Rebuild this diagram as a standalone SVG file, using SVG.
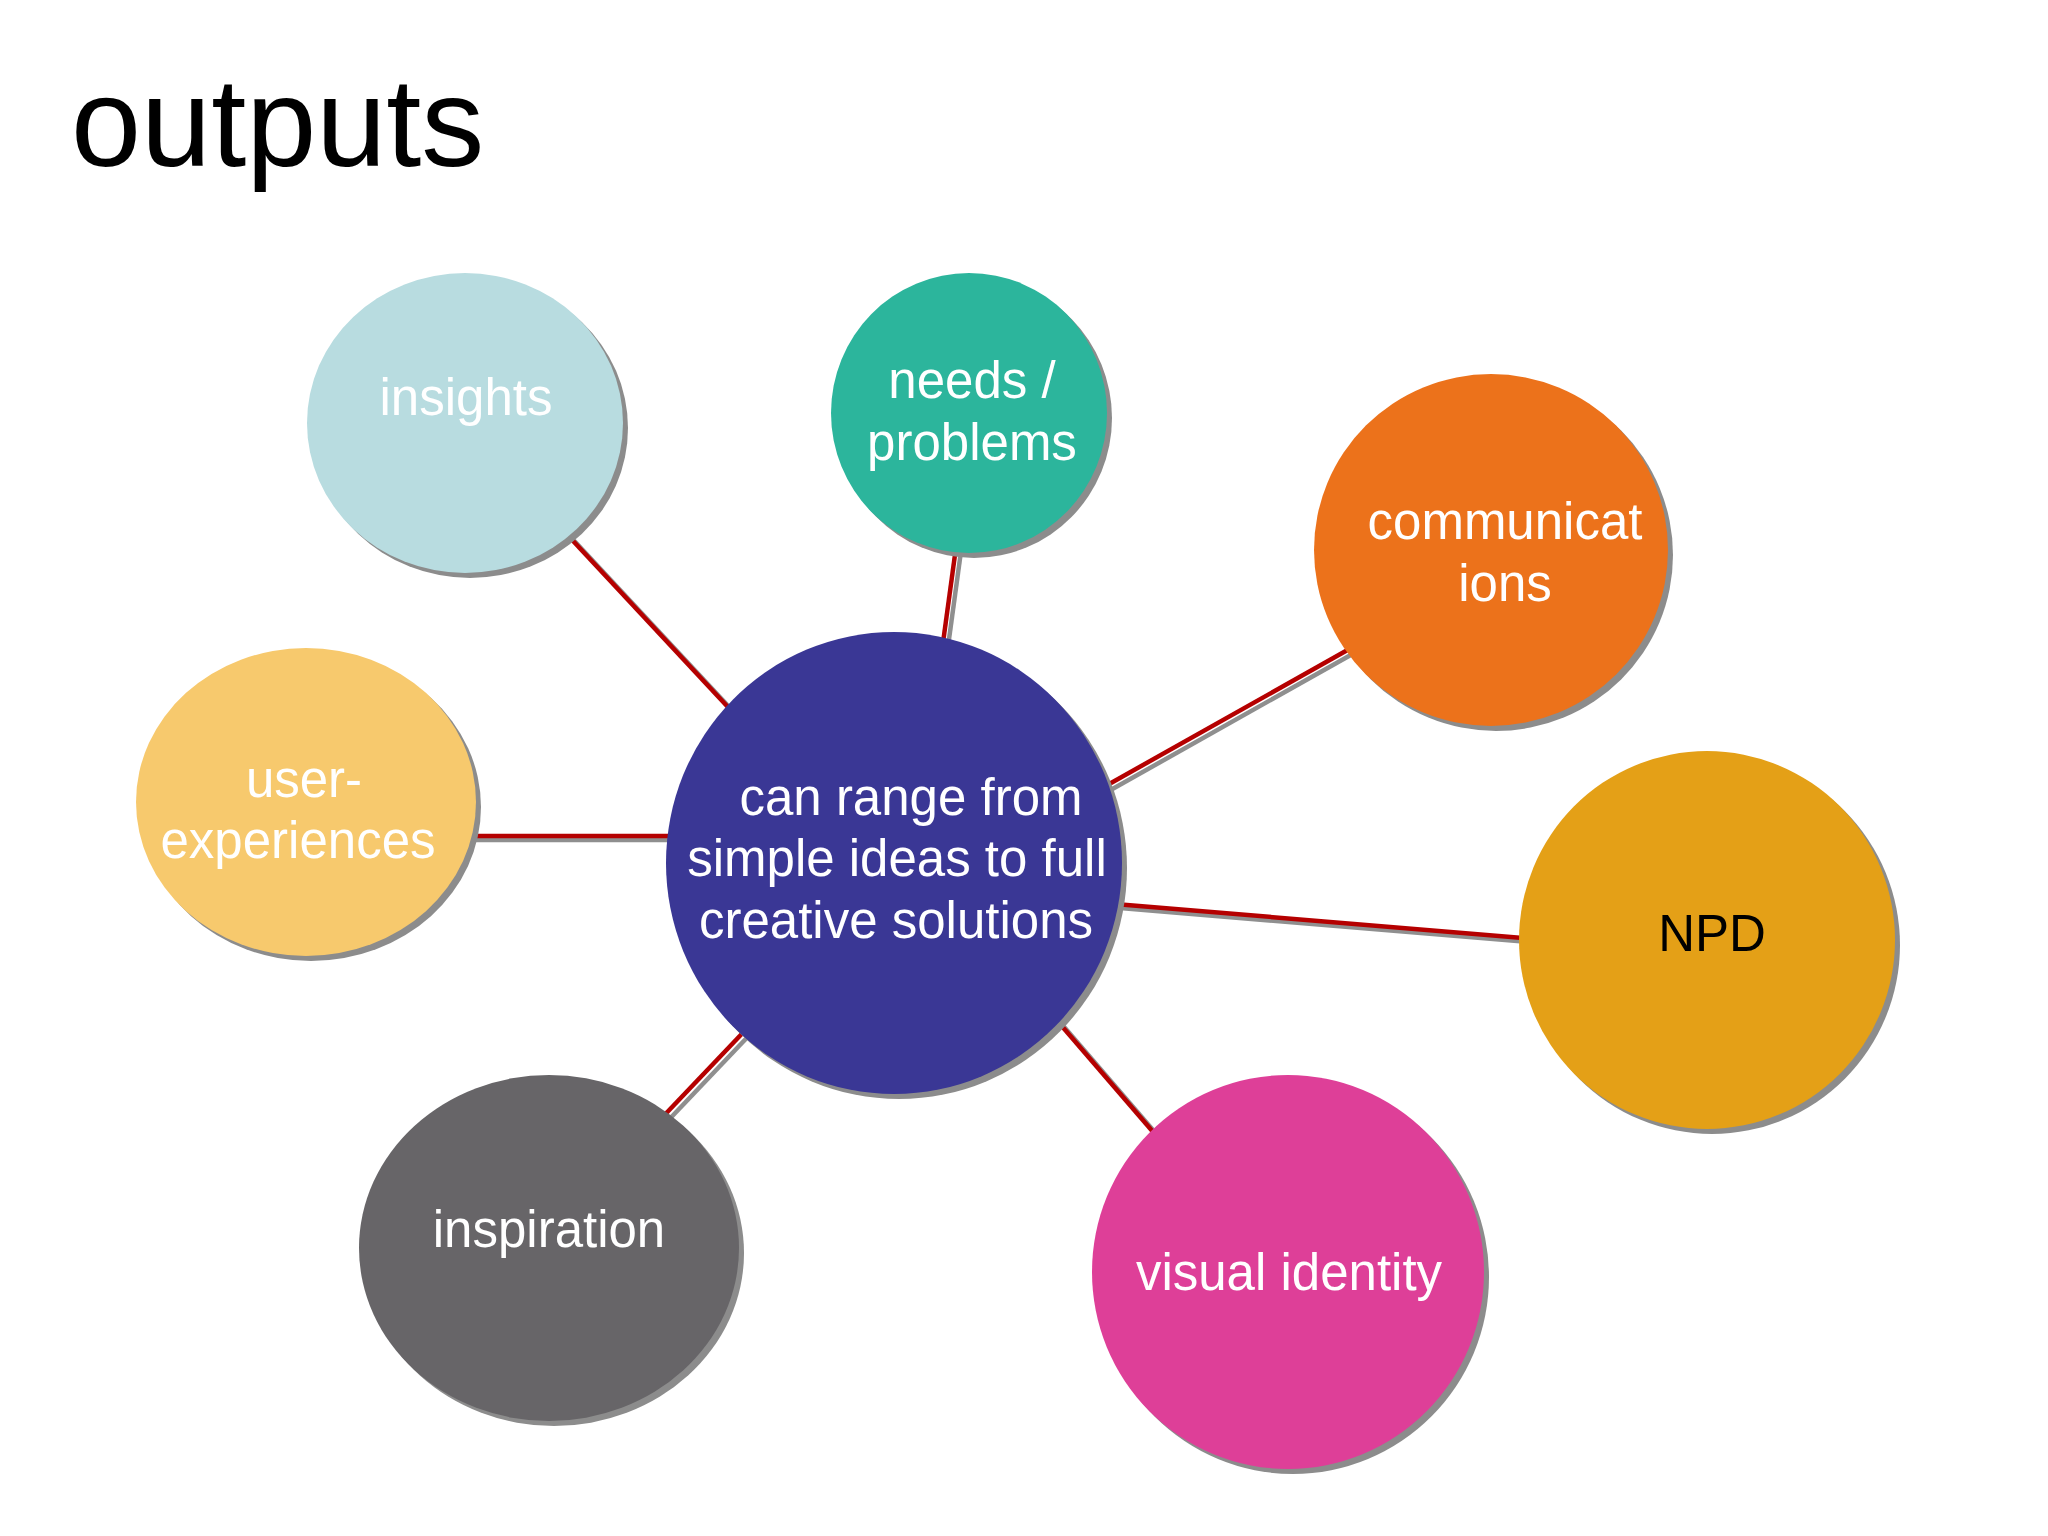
<svg xmlns="http://www.w3.org/2000/svg" width="2048" height="1536" viewBox="0 0 2048 1536">
<style>
  .t { font-family: "Liberation Sans", Arial, sans-serif; font-size: 51px; fill: #ffffff; text-anchor: middle; }
  .dark { fill: #000000; }
  .sh { fill: #8c8c8c; }
  .ln { stroke: #b50000; stroke-width: 4.5; fill: none; }
  .lns { stroke: #8f8f8f; stroke-width: 4.5; fill: none; }
</style>
<rect width="2048" height="1536" fill="#ffffff"/>
<text x="71" y="166" font-family="Liberation Sans, Arial, sans-serif" font-size="126" fill="#000000">outputs</text>

<g id="connectors">
  <g transform="translate(5,4)">
    <line class="lns" x1="561" y1="528" x2="740" y2="720"/>
    <line class="lns" x1="957" y1="540" x2="942" y2="650"/>
    <line class="lns" x1="1360" y1="643" x2="1095" y2="792"/>
    <line class="lns" x1="460" y1="836" x2="680" y2="836"/>
    <line class="lns" x1="1115" y1="904" x2="1535" y2="939"/>
    <line class="lns" x1="655" y1="1125" x2="755" y2="1020"/>
    <line class="lns" x1="1054" y1="1017" x2="1160" y2="1140"/>
  </g>
  <line class="ln" x1="561" y1="528" x2="740" y2="720"/>
  <line class="ln" x1="957" y1="540" x2="942" y2="650"/>
  <line class="ln" x1="1360" y1="643" x2="1095" y2="792"/>
  <line class="ln" x1="460" y1="836" x2="680" y2="836"/>
  <line class="ln" x1="1115" y1="904" x2="1535" y2="939"/>
  <line class="ln" x1="655" y1="1125" x2="755" y2="1020"/>
  <line class="ln" x1="1054" y1="1017" x2="1160" y2="1140"/>
</g>

<g id="insights">
  <ellipse class="sh" cx="470" cy="428" rx="158" ry="150"/>
  <ellipse cx="465" cy="423" rx="158" ry="150" fill="#b8dce0"/>
  <text class="t" x="466" y="415">insights</text>
</g>

<g id="needs">
  <ellipse class="sh" cx="974" cy="418" rx="138" ry="140"/>
  <ellipse cx="969" cy="413" rx="138" ry="140" fill="#2cb59c"/>
  <text class="t" x="972" y="398">needs /</text>
  <text class="t" x="972" y="460">problems</text>
</g>

<g id="communications">
  <ellipse class="sh" cx="1496" cy="555" rx="177" ry="176"/>
  <ellipse cx="1491" cy="550" rx="177" ry="176" fill="#ec721b"/>
  <text class="t" x="1505" y="539">communicat</text>
  <text class="t" x="1505" y="601">ions</text>
</g>

<g id="user-experiences">
  <ellipse class="sh" cx="311" cy="807" rx="170" ry="154"/>
  <ellipse cx="306" cy="802" rx="170" ry="154" fill="#f7c96d"/>
  <text class="t" x="304" y="797">user-</text>
  <text class="t" x="298" y="858">experiences</text>
</g>

<g id="center">
  <ellipse class="sh" cx="899" cy="868" rx="228" ry="231"/>
  <ellipse cx="894" cy="863" rx="228" ry="231" fill="#3a3795"/>
  <text class="t" x="911" y="815">can range from</text>
  <text class="t" x="897" y="876">simple ideas to full</text>
  <text class="t" x="896" y="938">creative solutions</text>
</g>

<g id="npd">
  <ellipse class="sh" cx="1712" cy="945" rx="188" ry="189"/>
  <ellipse cx="1707" cy="940" rx="188" ry="189" fill="#e4a017"/>
  <text class="t dark" x="1712" y="951">NPD</text>
</g>

<g id="inspiration">
  <ellipse class="sh" cx="554" cy="1253" rx="190" ry="173"/>
  <ellipse cx="549" cy="1248" rx="190" ry="173" fill="#676568"/>
  <text class="t" x="549" y="1247">inspiration</text>
</g>

<g id="visual-identity">
  <ellipse class="sh" cx="1293" cy="1277" rx="196" ry="197"/>
  <ellipse cx="1288" cy="1272" rx="196" ry="197" fill="#de3f98"/>
  <text class="t" x="1289" y="1290">visual identity</text>
</g>
</svg>
